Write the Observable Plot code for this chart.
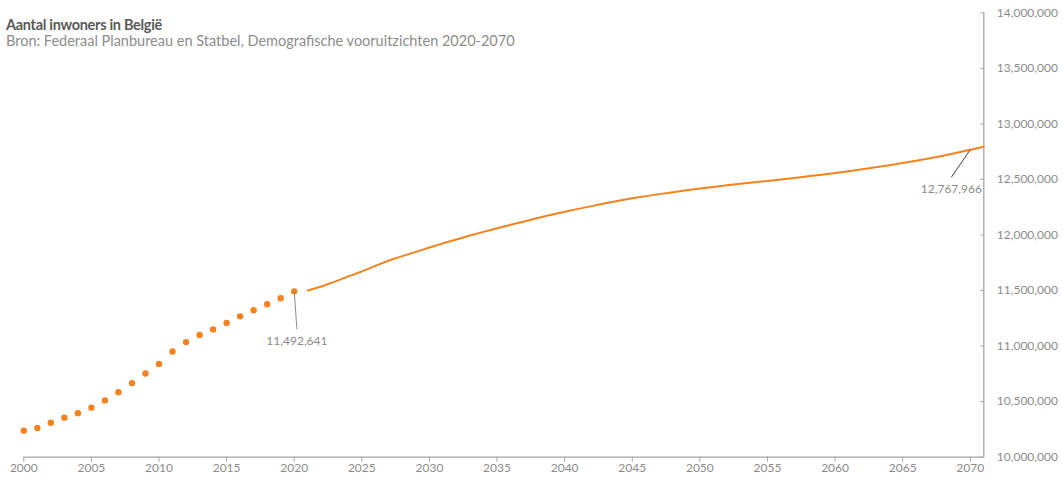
<!DOCTYPE html>
<html>
<head>
<meta charset="utf-8">
<script src="https://cdn.jsdelivr.net/npm/d3@7"></script>
<script src="https://cdn.jsdelivr.net/npm/@observablehq/plot@0.6"></script>
<style>
  html, body { margin: 0; padding: 0; background: #fff; }
  #wrap { position: relative; width: 1062px; height: 479px; font-family: Lato, "Open Sans", sans-serif; }
  .title { position: absolute; left: 6px; top: 18px; font-size: 14.5px; line-height: 14px; font-weight: bold; color: #595959; letter-spacing: -0.3px; white-space: nowrap; }
  .subtitle { position: absolute; left: 6px; top: 34px; font-size: 14.5px; line-height: 14px; color: #8c8c8c; white-space: nowrap; }
</style>
</head>
<body>
<div id="wrap">
  <div id="chart"></div>
  <div class="title">Aantal inwoners in België</div>
  <div class="subtitle">Bron: Federaal Planbureau en Statbel, Demografische vooruitzichten 2020-2070</div>
</div>
<script>
// Observed population (dots)
const obsYears = d3.range(2000, 2021);
const obsValues = [10239085, 10263414, 10309725, 10355844, 10396421, 10445852, 10511382, 10584534,
  10666866, 10753080, 10839905, 10951266, 11035948, 11099554, 11150516, 11209044, 11267910,
  11322088, 11376070, 11431406, 11492641];

// Projection (line)
const projYears = d3.range(2021, 2072);
const projValues = [11500000, 11536000, 11580000, 11627000, 11672000, 11722000, 11770000, 11810000,
  11848000, 11887000, 11925000, 11960000, 11995000, 12028000, 12060000, 12092000, 12122000,
  12153000, 12183000, 12210000, 12235000, 12260000, 12285000, 12308000, 12330000, 12350000,
  12368000, 12385000, 12402000, 12418000, 12433000, 12448000, 12462000, 12474000, 12487000,
  12500000, 12514000, 12528000, 12543000, 12558000, 12574000, 12591000, 12609000, 12628000,
  12648000, 12668000, 12690000, 12714000, 12740000, 12767966, 12795000];

// Annotations
const annoYears = [2020, 2070];
const annoValues = [11492641, 12767966];
const annoEndYears = [2020.2, 2068.6];
const annoEndValues = [11150000, 12520000];
const annoLabels = ["11,492,641", "12,767,966"];
const annoColors = ["#8c8c8c", "#404040"];

const xTicks = d3.range(2000, 2071, 5);
const yTicks = d3.range(10000000, 14000001, 500000);

const obs = obsYears.map((y, i) => ({year: y, value: obsValues[i]}));
const proj = projYears.map((y, i) => ({year: y, value: projValues[i]}));
const anno = annoYears.map((y, i) => ({year: y, value: annoValues[i], ey: annoEndYears[i], ev: annoEndValues[i], label: annoLabels[i], color: annoColors[i]}));

const orange = "#f5821f";
const grey = "#a6a6a6";
const labelGrey = "#8c8c8c";

const chart = Plot.plot({
  width: 1062,
  height: 479,
  marginLeft: 23.3,
  marginRight: 78.7,
  marginTop: 12.3,
  marginBottom: 22.3,
  style: {fontFamily: "Lato, 'Open Sans', sans-serif", fontSize: "12px", background: "white"},
  x: {domain: [2000, 2071]},
  y: {domain: [10000000, 14000000]},
  marks: [
    Plot.ruleY([10000000], {stroke: grey, strokeWidth: 1.3}),
    Plot.ruleX([2071], {stroke: grey, strokeWidth: 1.3}),
    Plot.axisX({ticks: xTicks, tickFormat: d => String(d), tickSize: 5, tickPadding: 1, stroke: grey, fill: labelGrey, fontSize: 12, label: null}),
    Plot.axisY({anchor: "right", ticks: yTicks, tickFormat: d3.format(","), tickSize: -4, tickPadding: 17, stroke: grey, fill: labelGrey, fontSize: 12, label: null}),
    Plot.line(proj, {x: "year", y: "value", stroke: orange, strokeWidth: 2}),
    Plot.dot(obs, {x: "year", y: "value", r: 3.2, fill: orange, stroke: "none"}),
    Plot.link(anno, {x1: "year", y1: "value", x2: "ey", y2: "ev", stroke: "color", strokeWidth: 1}),
    Plot.text(anno, {x: "ey", y: "ev", text: "label", dy: 12, fill: labelGrey, fontSize: 12})
  ]
});
document.getElementById("chart").appendChild(chart);
</script>
</body>
</html>
